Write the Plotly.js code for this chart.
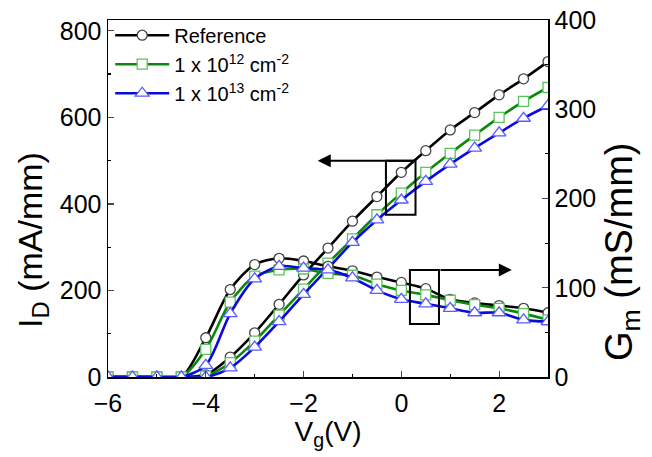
<!DOCTYPE html>
<html>
<head>
<meta charset="utf-8">
<script src="https://cdn.plot.ly/plotly-3.0.1.min.js"></script>
<style>html,body{margin:0;padding:0;background:#fff;}#chart{width:652px;height:457px;}</style>
</head>
<body>
<div id="chart"></div>
<script>
var vg = [-6, -5.5, -5, -4.5, -4, -3.5, -3, -2.5, -2, -1.5, -1, -0.5, 0, 0.5, 1, 1.5, 2, 2.5, 3];

var idRef  = [0, 0, 0, 0, 5, 46, 102, 168, 236, 298, 360, 417, 473, 523, 571, 611, 652, 689, 729];
var id12   = [0, 0, 0, 0, 2, 33, 83, 143, 203, 263, 319, 375, 425, 473, 517, 559, 600, 637, 669];
var id13   = [0, 0, 0, 0, 0, 21, 69, 128, 191, 251, 311, 363, 409, 452, 492, 529, 564, 598, 627];

var gmRef  = [0, 0, 0, 0, 44, 98, 126, 133, 130, 124, 119, 112, 106, 99, 87, 83, 80, 77, 72];
var gm12   = [0, 0, 0, 0, 31, 84, 113, 120, 121, 116, 114, 104, 97, 92, 86, 81, 77, 71, 64];
var gm13   = [0, 0, 0, 0, 13, 71, 110, 124, 122, 120, 111, 97, 87, 82, 77, 72, 72, 64, 62];

var names = ['Reference', '1 x 10<sup>12</sup> cm<sup>-2</sup>', '1 x 10<sup>13</sup> cm<sup>-2</sup>'];
var xTitle = 'V<sub>g</sub>(V)';
var yTitle = 'I<sub>D</sub> (mA/mm)';
var y2Title = 'G<sub>m</sub> (mS/mm)';

var lineColors = ['#000000', '#0a8a0a', '#0a0adc'];
var markColors = ['#444444', '#5cc45c', '#5a5aff'];
var symbols = ['circle', 'square', 'triangle-up'];
var sizes = [10, 10, 12];

var idSets = [idRef, id12, id13];
var gmSets = [gmRef, gm12, gm13];

var traces = [];
for (var i = 0; i < 3; i++) {
  traces.push({
    x: vg, y: idSets[i], type: 'scatter', mode: 'lines+markers', name: names[i],
    line: {color: lineColors[i], width: 2.6, shape: 'spline', smoothing: 0.8},
    marker: {symbol: symbols[i], size: sizes[i], color: '#ffffff', line: {color: markColors[i], width: 1.3}},
    showlegend: true
  });
}
for (var j = 0; j < 3; j++) {
  traces.push({
    x: vg, y: gmSets[j], type: 'scatter', mode: 'lines+markers', name: names[j], yaxis: 'y2',
    line: {color: lineColors[j], width: 2.6, shape: 'spline', smoothing: 0.8},
    marker: {symbol: symbols[j], size: sizes[j], color: '#ffffff', line: {color: markColors[j], width: 1.3}},
    showlegend: false
  });
}

var ff = 'Liberation Sans, Arial, sans-serif';

var layout = {
  width: 652, height: 457,
  margin: {l: 108, r: 104, t: 20, b: 80},
  paper_bgcolor: '#fff', plot_bgcolor: '#fff',
  font: {family: ff, color: '#000'},
  showlegend: true,
  legend: {x: 0.005, y: 1.012, xanchor: 'left', yanchor: 'top', bgcolor: 'rgba(0,0,0,0)',
           font: {family: ff, size: 20, color: '#000'}, tracegroupgap: 0, itemwidth: 54},
  xaxis: {
    range: [-6, 3], dtick: 2, tick0: 0, ticks: 'inside', ticklen: 6, tickwidth: 1.2,
    showline: true, linecolor: '#000', linewidth: 1.5, mirror: true, showgrid: false, zeroline: false,
    tickfont: {size: 25, family: ff}, ticklabelstandoff: 3,
    minor: {dtick: 1, ticks: 'inside', ticklen: 3, tickcolor: '#000', showgrid: false},
    title: {text: xTitle, font: {size: 28, family: ff}, standoff: 4}
  },
  yaxis: {
    range: [0, 825], dtick: 200, ticks: 'inside', ticklen: 6, tickwidth: 1.2,
    showline: true, linecolor: '#000', linewidth: 1.5, showgrid: false, zeroline: false,
    tickfont: {size: 25, family: ff},
    minor: {dtick: 100, ticks: 'inside', ticklen: 3, tickcolor: '#000', showgrid: false}
  },
  yaxis2: {
    range: [0, 400], dtick: 100, overlaying: 'y', side: 'right', ticks: 'inside', ticklen: 6, tickwidth: 1.2,
    showline: true, linecolor: '#000', linewidth: 1.5, showgrid: false, zeroline: false,
    tickfont: {size: 25, family: ff},
    minor: {dtick: 50, ticks: 'inside', ticklen: 3, tickcolor: '#000', showgrid: false}
  },
  shapes: [
    {type: 'rect', xref: 'x', yref: 'y', x0: -0.315, x1: 0.29, y0: 375, y1: 500, line: {color: '#000', width: 2}},
    {type: 'rect', xref: 'x', yref: 'y2', x0: 0.176, x1: 0.77, y0: 59.4, y1: 120, line: {color: '#000', width: 2}}
  ],
  annotations: [
    {xref: 'x', yref: 'y', axref: 'x', ayref: 'y', x: -1.71, y: 500, ax: 0.29, ay: 500, text: '',
     showarrow: true, arrowhead: 2, arrowsize: 1.3, arrowwidth: 2, arrowcolor: '#000'},
    {xref: 'x', yref: 'y2', axref: 'x', ayref: 'y2', x: 2.26, y: 120, ax: 0.77, ay: 120, text: '',
     showarrow: true, arrowhead: 2, arrowsize: 1.3, arrowwidth: 2, arrowcolor: '#000'},
    {xref: 'paper', yref: 'paper', x: -0.172, y: 0.385, xanchor: 'center', yanchor: 'middle', textangle: -90,
     text: yTitle, showarrow: false, font: {size: 34, family: ff, color: '#000'}},
    {xref: 'paper', yref: 'paper', x: 1.168, y: 0.35, xanchor: 'center', yanchor: 'middle', textangle: -90,
     text: y2Title, showarrow: false, font: {size: 38, family: ff, color: '#000'}}
  ]
};

Plotly.newPlot('chart', traces, layout, {displayModeBar: false, staticPlot: true});
</script>
</body>
</html>
